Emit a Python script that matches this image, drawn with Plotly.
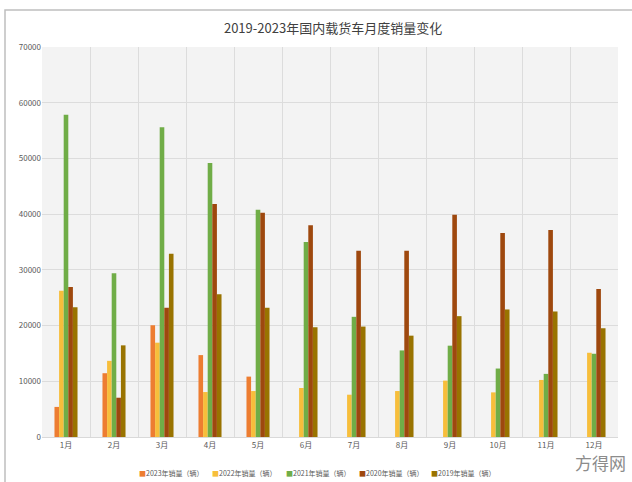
import plotly.graph_objects as go

months = ["1月", "2月", "3月", "4月", "5月", "6月", "7月", "8月", "9月", "10月", "11月", "12月"]
sales_2023 = [5400, 11450, 20060, 14700, 10840, None, None, None, None, None, None, None]
sales_2022 = [26270, 13670, 16930, 8070, 8250, 8800, 7590, 8250, 10120, 8010, 10240, 15120]
sales_2021 = [57830, 29400, 55600, 49160, 40780, 35000, 21570, 15540, 16390, 12290, 11330, 14940]
sales_2020 = [26930, 7050, 23190, 41810, 40240, 38010, 33430, 33430, 39880, 36630, 37170, 26570]
sales_2019 = [23310, 16450, 32890, 25600, 23190, 19700, 19820, 18190, 21690, 22890, 22530, 19520]

series = [
    ("2023年销量（辆）", sales_2023, "#ED7D31"),
    ("2022年销量（辆）", sales_2022, "#F7BE3B"),
    ("2021年销量（辆）", sales_2021, "#70AD47"),
    ("2020年销量（辆）", sales_2020, "#9E480E"),
    ("2019年销量（辆）", sales_2019, "#997300"),
]

W, H = 632, 482
ML, MR, MT, MB = 42, 14, 47, 45
PW, PH = W - ML - MR, H - MT - MB

def px_to_paper(xp, yp):
    return (xp - ML) / PW, (H - MB - yp) / PH

font = "Noto Sans CJK SC"
fig = go.Figure()
for name, vals, color in series:
    fig.add_trace(go.Bar(x=months, y=vals, name=name, marker_color=color, marker_line_width=0,
                         showlegend=False))

# compact legend drawn as text (small square + label), like the original
legend_x = [137, 210, 284, 357, 429]
annotations = []
for (name, vals, color), lx in zip(series, legend_x):
    px, py = px_to_paper(lx, 473)
    annotations.append(dict(
        text=f"<span style='color:{color}'>■</span>{name}",
        xref="paper", yref="paper", x=px, y=py, xanchor="left", yanchor="middle",
        showarrow=False, font=dict(size=7, color="#595959", family=font)))

wx, wy = px_to_paper(628, 462)
annotations.append(dict(text="方得网", xref="paper", yref="paper", x=wx, y=wy, xanchor="right",
                        yanchor="middle", showarrow=False,
                        font=dict(size=17, color="#8c8c8c", family=font)))

fig.update_layout(
    width=W, height=H,
    margin=dict(l=ML, r=MR, t=MT, b=MB),
    paper_bgcolor="white",
    plot_bgcolor="#f3f3f3",
    barmode="group",
    bargap=0.52,
    bargroupgap=0,
    showlegend=False,
    font=dict(family=font, color="#595959", size=8),
    title=dict(text="2019-2023年国内载货车月度销量变化", x=0.527, xanchor="center", y=0.94, yanchor="middle",
               font=dict(family=font, size=13, color="#404040")),
    xaxis=dict(tickson="boundaries", showgrid=True, gridcolor="#dcdcdc", gridwidth=1,
               showline=True, linecolor="#d9d9d9", ticks="", tickfont=dict(size=8)),
    yaxis=dict(range=[0, 70000], dtick=10000, tickformat="d", showgrid=True, gridcolor="#dcdcdc",
               zeroline=False, tickfont=dict(size=8), ticks=""),
    shapes=[dict(type="rect", xref="paper", yref="paper",
                 x0=px_to_paper(5, 0)[0], x1=px_to_paper(660, 0)[0],
                 y0=px_to_paper(0, 520)[1], y1=px_to_paper(0, 10)[1],
                 line=dict(color="#bfbfbf", width=1.5))],
    annotations=annotations,
)

fig.write_html("out.html")
